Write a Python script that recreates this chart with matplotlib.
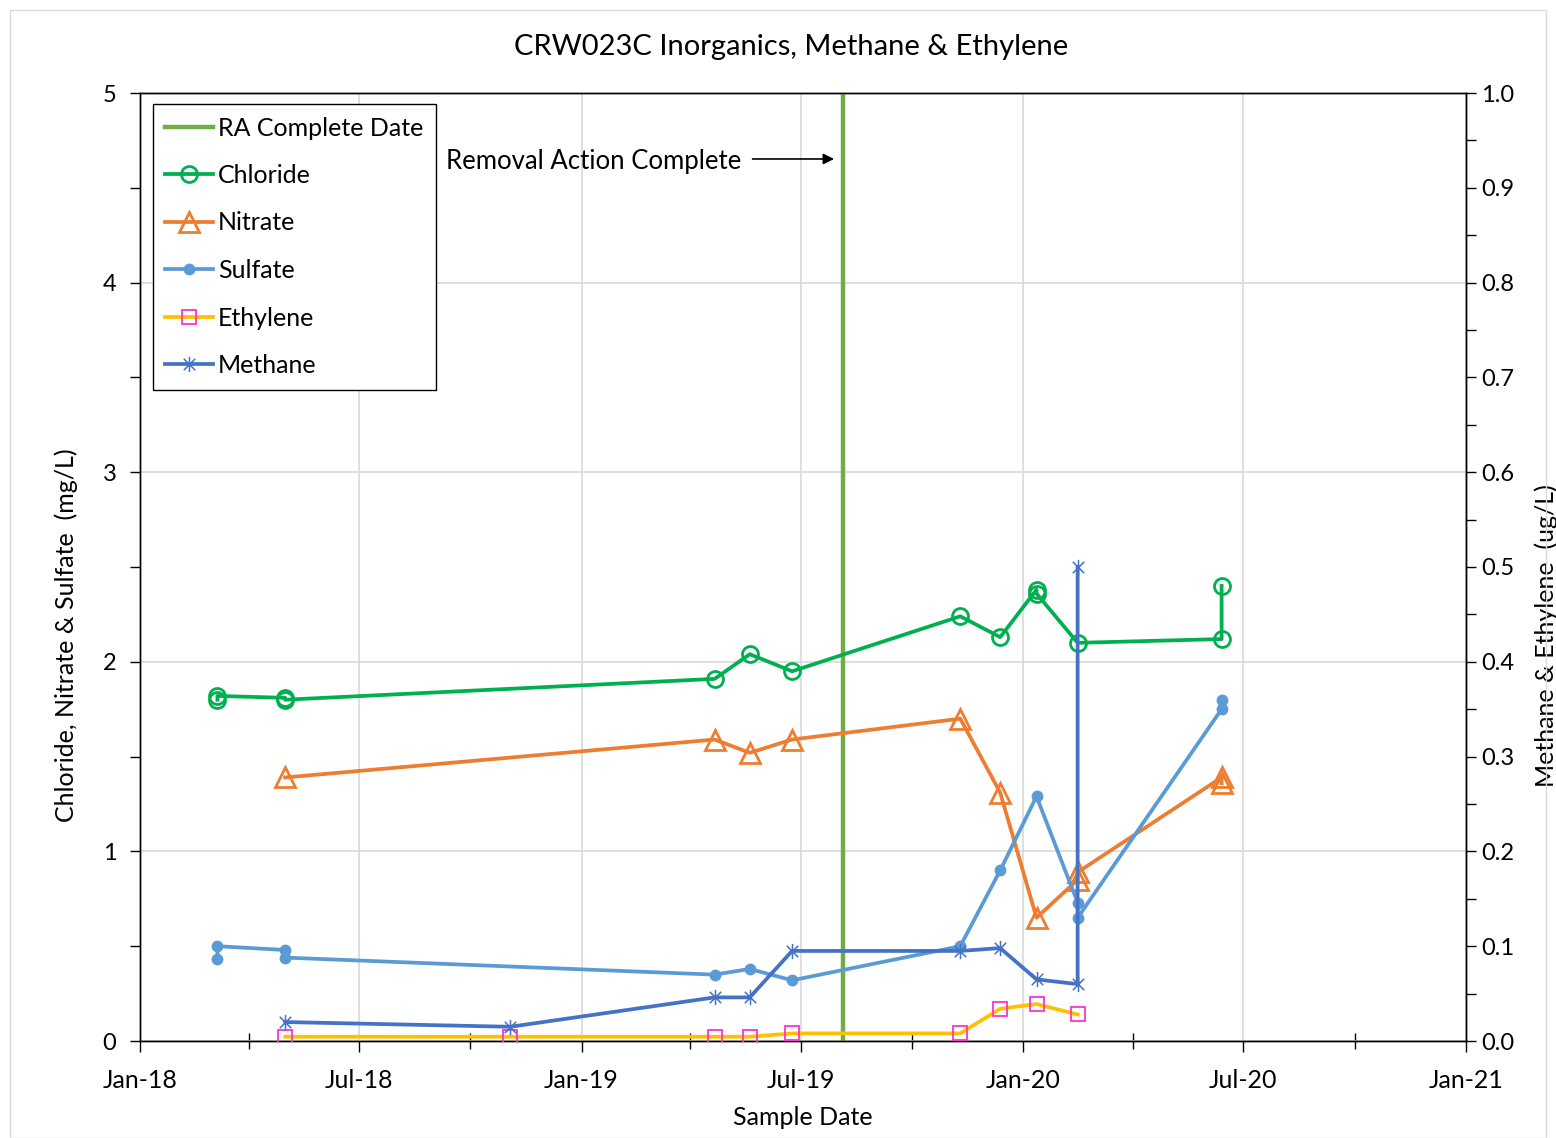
import matplotlib
matplotlib.use("Agg")
import matplotlib.pyplot as plt
import matplotlib.dates as mdates
from matplotlib.ticker import MultipleLocator, FormatStrFormatter
from matplotlib.path import Path
from matplotlib.patches import Rectangle
import pandas as pd

plt.rcParams['font.family'] = ['Lato', 'DejaVu Sans']

# ---------------- data ----------------
chloride_dates = ['2018-03-06', '2018-03-06', '2018-05-01', '2018-05-01', '2019-04-21', '2019-05-20',
                  '2019-06-24', '2019-11-10', '2019-12-13', '2020-01-12', '2020-01-12', '2020-02-15',
                  '2020-06-13', '2020-06-13']
chloride = [1.80, 1.82, 1.81, 1.80, 1.91, 2.04, 1.95, 2.24, 2.13, 2.38, 2.36, 2.10, 2.12, 2.40]

nitrate_dates = ['2018-05-01', '2019-04-21', '2019-05-20', '2019-06-24', '2019-11-10', '2019-12-13',
                 '2020-01-12', '2020-02-15', '2020-02-15', '2020-06-13', '2020-06-13']
nitrate = [1.39, 1.59, 1.52, 1.59, 1.70, 1.31, 0.65, 0.85, 0.89, 1.39, 1.36]

sulfate_dates = ['2018-03-06', '2018-03-06', '2018-05-01', '2018-05-01', '2019-04-21', '2019-05-20',
                 '2019-06-24', '2019-11-10', '2019-12-13', '2020-01-12', '2020-02-15', '2020-02-15',
                 '2020-06-13', '2020-06-13']
sulfate = [0.43, 0.50, 0.48, 0.44, 0.35, 0.38, 0.32, 0.50, 0.90, 1.29, 0.73, 0.65, 1.75, 1.80]

methane_dates = ['2018-05-01', '2018-11-03', '2019-04-21', '2019-05-20', '2019-06-24', '2019-11-10',
                 '2019-12-13', '2020-01-12', '2020-02-15', '2020-02-15']
methane = [0.020, 0.015, 0.046, 0.046, 0.095, 0.095, 0.098, 0.065, 0.060, 0.50]

ethylene_dates = ['2018-05-01', '2018-11-03', '2019-04-21', '2019-05-20', '2019-06-24', '2019-11-10',
                  '2019-12-13', '2020-01-12', '2020-02-15']
ethylene = [0.0045, 0.0045, 0.0045, 0.0045, 0.008, 0.008, 0.034, 0.039, 0.028]

ra_date = '2019-08-05'
x_range = ['2018-01-01', '2021-01-01']

title = 'CRW023C Inorganics, Methane & Ethylene'
annot_text = 'Removal Action Complete'

# ---------------- figure ----------------
fig = plt.figure(figsize=(15.56, 11.38), dpi=100)
fig.patches.append(Rectangle((10 / 1556, 0.0), 1 - 20 / 1556, 1 - 10 / 1138, transform=fig.transFigure,
                             fill=False, edgecolor='#D9D9D9', lw=1))
ax = fig.add_axes([140 / 1556, (1138 - 1041) / 1138, 1326 / 1556, 948 / 1138])
ax2 = ax.twinx()

d = pd.to_datetime

c_green = '#00B050'
c_orange = '#ED7D31'
c_sulf = '#5B9BD5'
c_yellow = '#FFC000'
c_pink = '#FF33CC'
c_meth = '#4472C4'
c_ra = '#70AD47'

ra_line = ax.axvline(d(ra_date), color=c_ra, lw=3.2, zorder=3, label='RA Complete Date')
l_cl, = ax.plot(d(chloride_dates), chloride, color=c_green, lw=2.7, marker='o', ms=11.5,
                mfc='none', mec=c_green, mew=2, label='Chloride', zorder=4)
l_ni, = ax.plot(d(nitrate_dates), nitrate, color=c_orange, lw=2.7, marker='^', ms=14,
                mfc='none', mec=c_orange, mew=2, label='Nitrate', zorder=4)
l_su, = ax.plot(d(sulfate_dates), sulfate, color=c_sulf, lw=2.7, marker='o', ms=7.5,
                mfc=c_sulf, mec=c_sulf, label='Sulfate', zorder=4)

ast = Path([(0, -1), (0, 1), (-0.75, -0.75), (0.75, 0.75), (-0.75, 0.75), (0.75, -0.75)],
           [Path.MOVETO, Path.LINETO, Path.MOVETO, Path.LINETO, Path.MOVETO, Path.LINETO])

l_et, = ax2.plot(d(ethylene_dates), ethylene, color=c_yellow, lw=2.7, marker='s', ms=9.5,
                 mfc='none', mec=c_pink, mew=1.3, label='Ethylene', zorder=4)
l_me, = ax2.plot(d(methane_dates), methane, color=c_meth, lw=2.7, marker=ast, ms=11,
                 mec=c_meth, mew=1.1, label='Methane', zorder=5)

# axes limits / ticks
ax.set_xlim(d(x_range[0]), d(x_range[1]))
ax.set_ylim(0, 5)
ax2.set_ylim(0, 1.0)
ax.xaxis.set_major_locator(mdates.MonthLocator(bymonth=[1, 7]))
ax.xaxis.set_minor_locator(mdates.MonthLocator(bymonth=[4, 10]))
ax.xaxis.set_major_formatter(mdates.DateFormatter('%b-%y'))
ax.yaxis.set_major_locator(MultipleLocator(1))
ax.yaxis.set_minor_locator(MultipleLocator(0.5))
ax2.yaxis.set_major_locator(MultipleLocator(0.1))
ax2.yaxis.set_minor_locator(MultipleLocator(0.05))
ax2.yaxis.set_major_formatter(FormatStrFormatter('%.1f'))

ax.grid(True, which='major', color='#D9D9D9', lw=1.2, zorder=0)
ax.set_axisbelow(True)

ax.tick_params(axis='x', which='major', direction='out', length=8, width=1, labelsize=18, pad=12)
ax.tick_params(axis='x', which='minor', direction='inout', length=12, width=1)
ax.tick_params(axis='y', which='both', direction='out', length=7, width=1, labelsize=17, pad=10)
ax2.tick_params(axis='y', which='both', direction='out', length=7, width=1, labelsize=17, pad=4)

for a in (ax, ax2):
    for s in a.spines.values():
        s.set_color('#000000')
        s.set_linewidth(1)

ax.set_xlabel('Sample Date', fontsize=18, labelpad=10)
ax.set_ylabel('Chloride, Nitrate & Sulfate  (mg/L)', fontsize=18)
ax2.set_ylabel('Methane & Ethylene  (ug/L)', fontsize=18)
ax.yaxis.set_label_coords((78 - 140) / 1326, 0.428)
ax2.yaxis.set_label_coords((1534 - 140) / 1326, 0.428)

fig.text(791 / 1556, 1 - 47 / 1138, title, ha='center', va='center', fontsize=21)

# annotation
ax.annotate('', xy=(d('2019-07-31'), 4.652), xytext=(d('2019-05-20'), 4.652),
            arrowprops=dict(arrowstyle='-|>', color='black', lw=1.2, mutation_scale=16))
ax.text(d('2018-09-11'), 4.64, annot_text, ha='left', va='center', fontsize=18.5)

leg = ax.legend(handles=[ra_line, l_cl, l_ni, l_su, l_et, l_me], loc='upper left',
                bbox_to_anchor=(13 / 1326, 1 - 11 / 948), fontsize=18, frameon=True,
                fancybox=False, edgecolor='black', framealpha=1, borderpad=0.5,
                labelspacing=0.98, handlelength=1.9, handletextpad=0.2, borderaxespad=0)
leg.get_frame().set_linewidth(1)
leg.remove()
ax2.add_artist(leg)

fig.savefig('out.png', dpi=100)
